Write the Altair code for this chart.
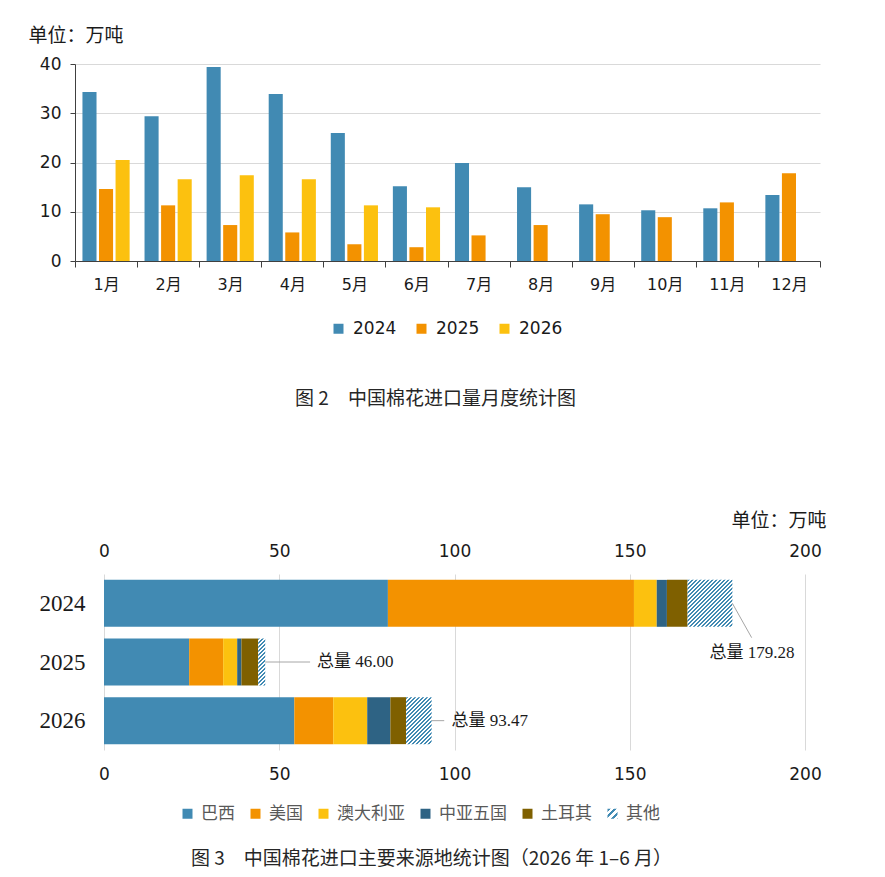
import json
import altair as alt
import pandas as pd

# ---------------- data: figure 2 (monthly imports) ----------------
months = ["1月", "2月", "3月", "4月", "5月", "6月", "7月", "8月", "9月", "10月", "11月", "12月"]
years_m = ["2024", "2025", "2026"]
v2024 = [34.3, 29.4, 39.4, 33.9, 26.0, 15.2, 19.9, 15.0, 11.5, 10.3, 10.7, 13.4]
v2025 = [14.6, 11.3, 7.3, 5.8, 3.4, 2.8, 5.2, 7.3, 9.5, 8.9, 11.9, 17.8]
v2026 = [20.5, 16.6, 17.4, 16.6, 11.3, 10.9]
year_colors = ["#418AB3", "#F39200", "#FCC10F"]

# ---------------- data: figure 3 (sources) ----------------
years_s = ["2024", "2025", "2026"]
origins = ["巴西", "美国", "澳大利亚", "中亚五国", "土耳其", "其他"]
brazil = [81.0, 24.3, 54.3]
usa = [70.2, 9.7, 11.1]
australia = [6.5, 4.0, 9.7]
central_asia = [2.9, 1.2, 6.6]
turkey = [5.9, 4.8, 4.5]
others = [12.78, 2.0, 7.27]
totals = [179.28, 46.00, 93.47]
origin_colors = ["#418AB3", "#F39200", "#FCC10F", "#2E6384", "#7F6000"]
hatch_color = "#418AB3"

SANS = "DejaVu Sans, Noto Sans CJK SC"
CJK = "Noto Sans CJK SC"
SERIF = "Liberation Serif, Noto Sans CJK SC"
TXT = "#1a1a1a"

# ---------------- tables ----------------
rows = []
for series, vals in zip(years_m, [v2024, v2025, v2026]):
    for m, v in zip(months, vals):
        rows.append({"month": m, "year": series, "value": v})
monthly = pd.DataFrame(rows)

series_vals = [brazil, usa, australia, central_asia, turkey, others]
srows = []
for yi, yr in enumerate(years_s):
    start = 0.0
    for oi, org in enumerate(origins):
        v = series_vals[oi][yi]
        srows.append({"year": yr, "idx": yi, "origin": org, "x0": start, "x1": start + v,
                      "ylo": yi - 0.4, "yhi": yi + 0.4})
        start += v
sources = pd.DataFrame(srows)

# ---------------- hatch gradient helper (style only) ----------------
PX_PER_UNIT = 701 / 200.0
BAR_H = 0.8 * 176 / 3.0


def hatch(w, h, period, color, frac=0.5):
    r = w / h
    b = (r + 1) / (r * r + 1)
    a = r * b
    n = (w + h) / period
    stops = []
    i = 0
    while i < n:
        s0 = round(min(i / n, 1), 4)
        s1 = round(min((i + frac) / n, 1), 4)
        s2 = round(min((i + 1) / n, 1), 4)
        stops += [{"offset": s0, "color": color}, {"offset": s1, "color": color},
                  {"offset": s1, "color": "#ffffff"}, {"offset": s2, "color": "#ffffff"}]
        i += 1
    return {"gradient": "linear", "x1": 0, "y1": 0, "x2": round(a, 4), "y2": round(b, 4), "stops": stops}


legend_hatch = hatch(10, 10, 6.5, hatch_color, 0.45)

# ---------------- figure 2 ----------------
top = alt.Chart(monthly).mark_bar().encode(
    x=alt.X("month:N", sort=months,
            scale=alt.Scale(paddingInner=0, paddingOuter=0),
            axis=alt.Axis(title=None, tickBand="extent", labelAngle=0, grid=False,
                          domainColor="#404040", tickColor="#404040", tickSize=6,
                          labelFont=SANS, labelFontSize=16, labelColor=TXT, labelPadding=9)),
    xOffset=alt.XOffset("year:N", scale=alt.Scale(domain=years_m, paddingInner=0.15, paddingOuter=0.45)),
    y=alt.Y("value:Q", scale=alt.Scale(domain=[0, 40], nice=False),
            axis=alt.Axis(values=[0, 10, 20, 30, 40], title="单位：万吨", titleAngle=0,
                          titleX=-47, titleY=-29, titleAlign="left", titleBaseline="middle",
                          titleFont=CJK, titleFontSize=19, titleFontWeight="normal", titleColor=TXT,
                          domainColor="#404040", tickColor="#404040", tickSize=5,
                          gridColor="#D9D9D9", labelFont=SANS, labelFontSize=17,
                          labelColor=TXT, labelPadding=9)),
    color=alt.Color("year:N", scale=alt.Scale(domain=years_m, range=year_colors),
                    legend=alt.Legend(title=None, orient="none", direction="horizontal",
                                      legendX=255, legendY=256, symbolType="square",
                                      symbolSize=100, symbolStrokeWidth=0, labelFont=SANS,
                                      labelFontSize=17, labelColor=TXT, labelOffset=6,
                                      columnPadding=16)),
).properties(
    width=745, height=197,
    title=alt.TitleParams("图 2　中国棉花进口量月度统计图", orient="bottom", frame="group",
                          anchor="middle", dx=-12, offset=53, font=CJK, fontSize=19,
                          fontWeight="normal", color="#262626"),
)

# ---------------- figure 3 ----------------
base = alt.Chart(sources)
xscale = alt.Scale(domain=[0, 200], nice=False, zero=False, padding=29)
yscale = alt.Scale(domain=[-0.5, 2.5], nice=False, zero=False, reverse=True)
ticks = [0, 50, 100, 150, 200]

main_bars = base.transform_filter(alt.datum.origin != "其他").mark_bar().encode(
    x=alt.X("x0:Q", scale=xscale,
            axis=alt.Axis(orient="bottom", values=ticks, title=None, grid=True, gridColor="#D9D9D9",
                          ticks=False, tickSize=0, domain=False, labelFont=SANS, labelFontSize=17,
                          labelColor=TXT, labelPadding=16)),
    x2="x1:Q",
    y=alt.Y("ylo:Q", scale=yscale,
            axis=alt.Axis(orient="left", values=[0, 1, 2],
                          labelExpr="['2024','2025','2026'][datum.value]",
                          title=None, grid=False, ticks=False, tickSize=0, domain=False,
                          labelFont="Liberation Serif", labelFontSize=23, labelColor=TXT,
                          labelPadding=-10)),
    y2="yhi:Q",
    color=alt.Color("origin:N",
                    scale=alt.Scale(domain=origins,
                                    range=origin_colors + [{"expr": json.dumps(legend_hatch)}]),
                    legend=alt.Legend(title=None, orient="none", direction="horizontal",
                                      legendX=104, legendY=231, symbolType="square",
                                      symbolSize=100, symbolStrokeWidth=0, labelFont=CJK,
                                      labelFontSize=17, labelColor="#595959", labelOffset=5,
                                      columnPadding=12)),
)

hatch_layers = []
for yi, yr in enumerate(years_s):
    w = others[yi] * PX_PER_UNIT
    g = hatch(w, BAR_H, 4.0, hatch_color, 0.5)
    hatch_layers.append(
        base.transform_filter((alt.datum.origin == "其他") & (alt.datum.year == yr))
        .mark_bar(fill=g)
        .encode(x=alt.X("x0:Q", scale=xscale, axis=None), x2="x1:Q",
                y=alt.Y("ylo:Q", scale=yscale, axis=None), y2="yhi:Q")
    )

ann = pd.DataFrame({
    "idx": [0, 1, 2],
    "total": totals,
    "ldx": [5.5, 12.8, 3.6],
    "ldy": [0.585, 0.0, 0.0],
    "tdx": [5.6, 14.8, 5.7],
    "tdy": [0.84, 0.0, 0.0],
})
abase = alt.Chart(ann).transform_calculate(
    lx2="datum.total + datum.ldx", ly2="datum.idx + datum.ldy",
    tx="datum.total + datum.tdx", ty="datum.idx + datum.tdy",
    label="'总量 ' + format(datum.total, '.2f')",
)

leaders = abase.mark_rule(color="#A6A6A6", strokeWidth=1).encode(
    x=alt.X("total:Q", scale=xscale,
            axis=alt.Axis(orient="top", values=ticks, title="单位：万吨", titleX=751, titleY=-54,
                          titleAlign="right", titleBaseline="middle", titleAngle=0,
                          titleFont=CJK, titleFontSize=19, titleFontWeight="normal", titleColor=TXT,
                          grid=False, ticks=False, tickSize=0, domain=False, labelFont=SANS,
                          labelFontSize=17, labelColor=TXT, labelPadding=14)),
    x2="lx2:Q",
    y=alt.Y("idx:Q", scale=yscale, axis=None),
    y2="ly2:Q",
)

labels_center = abase.transform_filter(alt.datum.idx == 0).mark_text(
    align="center", baseline="middle", font=SERIF, fontSize=17, color=TXT
).encode(x=alt.X("tx:Q", scale=xscale, axis=None), y=alt.Y("ty:Q", scale=yscale, axis=None), text="label:N")

labels_left = abase.transform_filter(alt.datum.idx > 0).mark_text(
    align="left", baseline="middle", font=SERIF, fontSize=17, color=TXT
).encode(x=alt.X("tx:Q", scale=xscale, axis=None), y=alt.Y("ty:Q", scale=yscale, axis=None), text="label:N")

bottom = alt.layer(main_bars, *hatch_layers, leaders, labels_center, labels_left).resolve_axis(
    x="independent", y="independent"
).properties(
    width=759, height=176,
    title=alt.TitleParams("图 3　中国棉花进口主要来源地统计图（2026 年 1–6 月）", orient="bottom",
                          frame="group", anchor="middle", dx=-23, offset=28, font=CJK, fontSize=19,
                          fontWeight="normal", color="#262626"),
)

chart = alt.vconcat(top, bottom, spacing=102).resolve_scale(color="independent").properties(
    padding={"left": 20, "top": 18, "right": 5, "bottom": 5},
    background="white",
).configure_view(stroke=None)

chart.save("out.html", embed_options={"renderer": "svg", "actions": False})
